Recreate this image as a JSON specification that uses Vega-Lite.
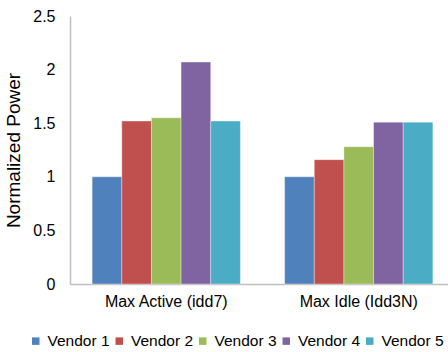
{
  "$schema": "https://vega.github.io/schema/vega-lite/v6.json",
  "width": 378,
  "height": 268,
  "autosize": {"type": "none"},
  "padding": {"left": 70, "top": 16, "right": 0, "bottom": 68},
  "background": "white",
  "config": {
    "view": {"stroke": null},
    "font": "Liberation Sans",
    "axis": {"labelFont": "Liberation Sans", "titleFont": "Liberation Sans", "labelColor": "#000", "titleColor": "#000"},
    "legend": {"labelFont": "Liberation Sans", "labelColor": "#000"}
  },
  "data": {
    "values": [
      {"metric": "Max Active (idd7)", "vendor": "Vendor 1", "power": 1.0},
      {"metric": "Max Active (idd7)", "vendor": "Vendor 2", "power": 1.52},
      {"metric": "Max Active (idd7)", "vendor": "Vendor 3", "power": 1.55},
      {"metric": "Max Active (idd7)", "vendor": "Vendor 4", "power": 2.07},
      {"metric": "Max Active (idd7)", "vendor": "Vendor 5", "power": 1.52},
      {"metric": "Max Idle (Idd3N)", "vendor": "Vendor 1", "power": 1.0},
      {"metric": "Max Idle (Idd3N)", "vendor": "Vendor 2", "power": 1.16},
      {"metric": "Max Idle (Idd3N)", "vendor": "Vendor 3", "power": 1.28},
      {"metric": "Max Idle (Idd3N)", "vendor": "Vendor 4", "power": 1.51},
      {"metric": "Max Idle (Idd3N)", "vendor": "Vendor 5", "power": 1.51}
    ]
  },
  "mark": {"type": "bar", "stroke": "#ffffff", "strokeOpacity": 0.35, "strokeWidth": 1},
  "encoding": {
    "x": {
      "field": "metric",
      "type": "nominal",
      "sort": null,
      "title": null,
      "scale": {"range": [0, 385], "paddingInner": 0.23, "paddingOuter": 0.115},
      "axis": {
        "labelAngle": 0,
        "labelFontSize": 16,
        "labelPadding": 9,
        "ticks": false,
        "domainColor": "#bfbfbf",
        "domainWidth": 1.5
      }
    },
    "xOffset": {"field": "vendor", "type": "nominal", "sort": null},
    "y": {
      "field": "power",
      "type": "quantitative",
      "title": "Normalized Power",
      "scale": {"domain": [0, 2.5], "nice": false},
      "axis": {
        "values": [0, 0.5, 1, 1.5, 2, 2.5],
        "format": "~g",
        "grid": false,
        "ticks": false,
        "labelFontSize": 16,
        "labelPadding": 15,
        "domainColor": "#bfbfbf",
        "domainWidth": 1.5,
        "titleFontSize": 19,
        "titleFontWeight": "normal",
        "titlePadding": 9
      }
    },
    "color": {
      "field": "vendor",
      "type": "nominal",
      "sort": null,
      "title": null,
      "scale": {
        "domain": ["Vendor 1", "Vendor 2", "Vendor 3", "Vendor 4", "Vendor 5"],
        "range": ["#4F81BD", "#C0504D", "#9BBB59", "#8064A2", "#4BACC6"]
      },
      "legend": {
        "orient": "none",
        "direction": "horizontal",
        "legendX": -42,
        "legendY": 317,
        "symbolType": "square",
        "symbolSize": 56,
        "symbolStrokeWidth": 0,
        "labelFontSize": 15.5,
        "labelOffset": 4,
        "columnPadding": 1.5
      }
    }
  }
}
